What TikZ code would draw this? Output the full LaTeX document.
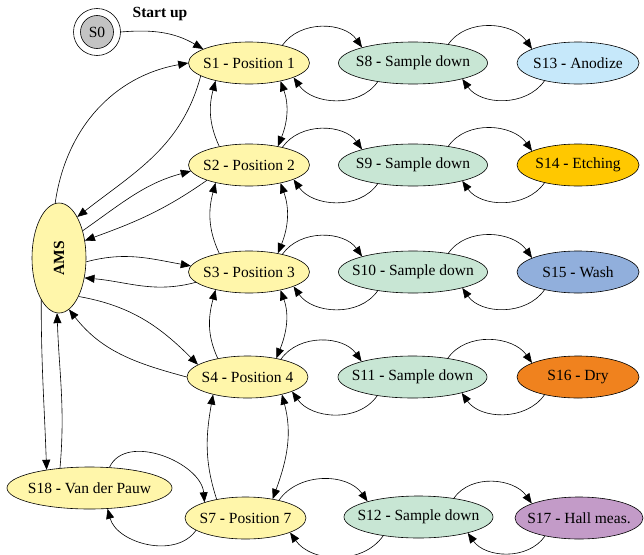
\documentclass[tikz,border=0pt]{standalone}
\usepackage{fontspec}
\setmainfont{Liberation Serif}
\usetikzlibrary{arrows.meta,shapes.geometric}
\definecolor{yel}{RGB}{255,246,170}
\definecolor{grn}{RGB}{200,230,212}
\definecolor{cA}{RGB}{198,232,250}
\definecolor{cE}{RGB}{255,200,0}
\definecolor{cW}{RGB}{145,175,220}
\definecolor{cD}{RGB}{240,130,30}
\definecolor{cH}{RGB}{195,155,200}
\definecolor{gry}{RGB}{195,195,195}
\newcommand{\sdash}{\textbf{-}}
\newcommand{\zb}[1]{\makebox[0pt]{#1}}
\begin{document}
\begin{tikzpicture}[x=1pt,y=1pt,
  stbox/.style={ellipse,draw,line width=0.6pt,inner sep=0pt,minimum height=42pt,font=\fontsize{15.5}{18}\selectfont},
  posn/.style={stbox,fill=yel,minimum width=121pt},
  smp/.style={stbox,fill=grn,minimum width=149pt},
  finbox/.style={stbox,minimum width=122pt},
  arr/.style={-{Triangle[length=10pt,width=8pt]},line width=0.6pt},
  biarr/.style={{Triangle[length=10pt,width=8pt]}-{Triangle[length=10pt,width=8pt]},line width=0.6pt}]
\useasboundingbox (0,0) rectangle (644,-554);
% start
\node[circle,draw,line width=0.6pt,fill=gry,minimum size=33pt,inner sep=0pt,font=\fontsize{15.5}{18}\selectfont] (S0) at (97,-32) {S0};
\node[circle,draw,line width=0.6pt,minimum size=47pt,inner sep=0pt] (S0o) at (97,-32) {};
\node[font=\fontsize{15.5}{18}\selectfont\bfseries] (start) at (160,-14) {Start up};
% positions
\node[posn] (S1) at (249,-63) {\zb{S1 \sdash{} Position 1}};
\node[posn] (S2) at (249,-165) {\zb{S2 \sdash{} Position 2}};
\node[posn] (S3) at (249,-272) {\zb{S3 \sdash{} Position 3}};
\node[posn] (S4) at (247.5,-377) {\zb{S4 \sdash{} Position 4}};
\node[posn] (S7) at (245.5,-518) {\zb{S7 \sdash{} Position 7}};
% sample down
\node[smp] (S8) at (413,-63) {\zb{S8 \sdash{} Sample down}};
\node[smp] (S9) at (413,-165) {\zb{S9 \sdash{} Sample down}};
\node[smp] (S10) at (413,-272) {\zb{S10 \sdash{} Sample down}};
\node[smp] (S11) at (412.5,-377) {\zb{S11 \sdash{} Sample down}};
\node[smp] (S12) at (418.5,-517) {\zb{S12 \sdash{} Sample down}};
% processes
\node[finbox,fill=cA] (S13) at (578,-63) {\zb{S13 \sdash{} Anodize}};
\node[finbox,fill=cE] (S14) at (578,-165) {\zb{S14 \sdash{} Etching}};
\node[finbox,fill=cW] (S15) at (578,-272) {\zb{S15 \sdash{} Wash}};
\node[finbox,fill=cD] (S16) at (578,-377) {\zb{S16 \sdash{} Dry}};
\node[finbox,fill=cH,minimum width=128pt] (S17) at (579,-518) {\zb{S17 \sdash{} Hall meas.}};
% AMS and S18
\node[stbox,fill=yel,minimum width=54pt,minimum height=110pt] (AMS) at (59,-258) {};
\node[rotate=90,font=\fontsize{15.5}{18}\selectfont\bfseries] (AMSt) at (AMS) {AMS};
\node[stbox,fill=yel,minimum width=165pt] (S18) at (89.5,-488) {\zb{S18 \sdash{} Van der Pauw}};
% start edge
\draw[arr] (S0o.0) to[out=5,in=150] (S1.163);
% horizontal pairs
\foreach \a/\b in {S1/S8,S2/S9,S3/S10,S4/S11,S7/S12,S8/S13,S9/S14,S10/S15,S11/S16,S12/S17}{
  \draw[arr] (\a.28) to[out=55,in=125] (\b.163);
  \draw[arr] (\b.208) to[out=-125,in=-55] (\a.-18);
}
% vertical pairs
\foreach \a/\b in {S1/S2,S2/S3,S3/S4}{
  \draw[arr] (\b.148) to[out=115,in=-105] (\a.208);
  \draw[biarr] (\a.-30) to[out=-70,in=68] (\b.33);
}
\draw[arr] (S7.147) to[out=108,in=-100] (S4.207);
\draw[biarr] (S4.-27) to[out=-75,in=70] (S7.35);
% AMS edges
\draw[arr] (AMS.94) to[out=82,in=190] (S1.180);
\draw[arr] (S1.195) to[out=-105,in=38] (AMS.66);
\draw[arr] (AMS.49) to[out=35,in=195] (S2.186);
\draw[arr] (S2.200) to[out=215,in=20] (AMS.34);
\draw[arr] (AMS.-8) to[out=15,in=170] (S3.174);
\draw[arr] (S3.191) to[out=195,in=-5] (AMS.-38);
\draw[arr] (AMS.-63) to[out=-10,in=135] (S4.166);
\draw[arr] (S4.180) to[out=165,in=-52] (AMS.-79);
\draw[arr] (AMS.-113) to[out=-90,in=92] (S18.157);
\draw[arr] (S18.146) to[out=85,in=-88] (AMS.-92);
% S18 / S7
\draw[arr] (S18.46) to[out=65,in=95] (S7.159);
\draw[arr] (S7.194) to[out=-125,in=-75] (S18.-49);
\end{tikzpicture}
\end{document}
